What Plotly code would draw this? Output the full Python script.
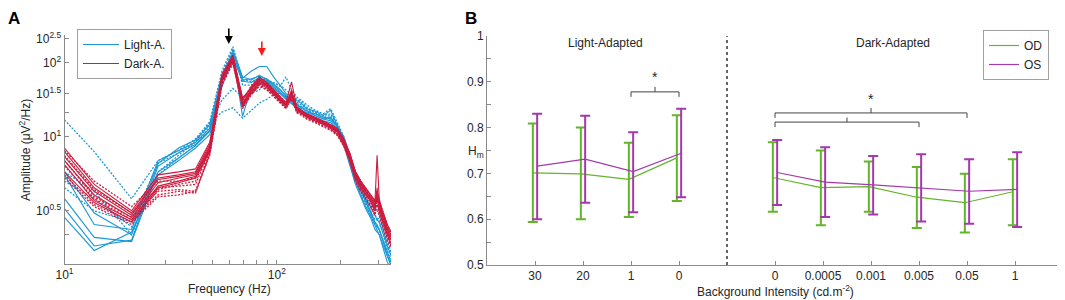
import math
import plotly.graph_objects as go

# ---------------- Panel A data (log10 amplitude exponent per frequency bin) ----------------
freq_hz = [10, 13.8, 20.7, 27.6, 34.5, 41.4, 48.3, 55.2, 62.1, 69.0, 75.9, 82.8, 89.7, 96.6,
           103.5, 110.4, 117.3, 124.2, 131.1, 138.0, 151.8, 165.6, 179.4, 193.2, 207.0, 220.8,
           234.6, 248.4, 262.2, 276.0, 289.8, 296.7, 303.6, 317.4, 331.2, 345.0]

light_solid_1 = [0.72, 0.49, 0.40, 0.78, 0.90, 0.97, 1.12, 1.78, 2.20, 1.73, 1.85, 1.93, 1.93, 1.75, 1.62, 1.50, 1.45, 1.40, 1.36, 1.30, 1.27, 1.22, 1.28, 1.10, 0.96, 0.80, 0.68, 0.62, 0.56, 0.52, 0.48, 0.46, 0.45, 0.40, 0.36, 0.33]
light_solid_2 = [0.70, 0.44, 0.42, 0.80, 0.88, 0.95, 1.08, 1.70, 2.15, 1.21, 1.60, 1.72, 1.68, 1.60, 1.52, 1.44, 1.40, 1.36, 1.30, 1.28, 1.22, 1.18, 1.16, 1.08, 0.94, 0.78, 0.66, 0.58, 0.52, 0.48, 0.44, 0.42, 0.40, 0.36, 0.33, 0.30]
light_solid_3 = [0.56, 0.39, 0.375, 0.72, 0.82, 0.92, 1.05, 1.65, 2.25, 1.75, 1.70, 1.78, 1.70, 1.62, 1.55, 1.48, 1.38, 1.34, 1.32, 1.26, 1.24, 1.20, 1.18, 1.10, 1.00, 0.84, 0.70, 0.62, 0.55, 0.50, 0.45, 0.44, 0.42, 0.38, 0.34, 0.31]
light_solid_4 = [0.47, 0.345, 0.41, 0.70, 0.80, 0.90, 1.02, 1.60, 2.10, 1.68, 1.66, 1.74, 1.66, 1.58, 1.50, 1.42, 1.36, 1.30, 1.26, 1.24, 1.20, 1.16, 1.14, 1.06, 0.92, 0.76, 0.64, 0.57, 0.51, 0.47, 0.42, 0.41, 0.40, 0.35, 0.31, 0.29]
light_solid_5 = [0.51, 0.36, 0.38, 0.76, 0.86, 0.93, 1.06, 1.68, 2.18, 1.70, 1.72, 1.76, 1.72, 1.64, 1.56, 1.46, 1.40, 1.34, 1.28, 1.25, 1.22, 1.18, 1.20, 1.10, 0.98, 0.82, 0.68, 0.60, 0.54, 0.49, 0.45, 0.43, 0.42, 0.37, 0.33, 0.30]

light_dotted_1 = [1.17, 0.87, 0.56, 0.80, 0.88, 0.98, 1.15, 1.85, 2.32, 1.70, 1.68, 1.72, 1.70, 1.66, 1.60, 1.75, 1.55, 1.45, 1.40, 1.35, 1.28, 1.24, 1.30, 1.14, 1.00, 0.82, 0.70, 0.64, 0.58, 0.54, 0.50, 0.50, 0.48, 0.42, 0.38, 0.34]
light_dotted_2 = [0.66, 0.56, 0.43, 0.70, 0.82, 0.92, 1.10, 1.41, 1.57, 1.45, 1.50, 1.55, 1.68, 1.65, 1.62, 1.55, 1.48, 1.42, 1.38, 1.32, 1.26, 1.22, 1.24, 1.12, 0.98, 0.80, 0.66, 0.60, 0.55, 0.50, 0.46, 0.46, 0.45, 0.40, 0.36, 0.32]
light_dotted_3 = [0.72, 0.60, 0.40, 0.72, 0.84, 0.95, 1.14, 1.26, 1.31, 1.19, 1.28, 1.37, 1.42, 1.48, 1.50, 1.46, 1.42, 1.38, 1.34, 1.30, 1.25, 1.20, 1.22, 1.10, 0.96, 0.78, 0.66, 0.58, 0.53, 0.48, 0.44, 0.43, 0.42, 0.38, 0.34, 0.31]
light_dotted_4 = [0.62, 0.50, 0.45, 0.78, 0.86, 0.96, 1.12, 1.80, 2.28, 1.62, 1.62, 1.66, 1.62, 1.56, 1.50, 1.44, 1.40, 1.36, 1.32, 1.28, 1.24, 1.20, 1.18, 1.10, 0.98, 0.82, 0.70, 0.63, 0.57, 0.52, 0.48, 0.47, 0.46, 0.41, 0.37, 0.33]

dark_solid_1 = [0.90, 0.64, 0.50, 0.70, 0.72, 0.74, 0.95, 1.80, 2.15, 1.40, 1.60, 1.75, 1.66, 1.55, 1.45, 1.38, 1.67, 1.32, 1.28, 1.24, 1.20, 1.16, 1.12, 1.08, 0.98, 0.86, 0.72, 0.66, 0.61, 0.58, 0.54, 0.84, 0.56, 0.48, 0.43, 0.40]
dark_solid_2 = [0.87, 0.62, 0.49, 0.68, 0.70, 0.72, 0.93, 1.76, 2.10, 1.36, 1.56, 1.70, 1.62, 1.52, 1.42, 1.35, 1.50, 1.30, 1.26, 1.22, 1.18, 1.14, 1.10, 1.05, 0.95, 0.82, 0.70, 0.64, 0.60, 0.56, 0.52, 0.58, 0.52, 0.46, 0.41, 0.38]
dark_solid_3 = [0.83, 0.60, 0.48, 0.67, 0.69, 0.71, 0.91, 1.72, 2.05, 1.32, 1.52, 1.66, 1.60, 1.50, 1.40, 1.34, 1.55, 1.28, 1.25, 1.20, 1.16, 1.12, 1.08, 1.02, 0.92, 0.80, 0.68, 0.62, 0.58, 0.55, 0.50, 0.62, 0.50, 0.44, 0.40, 0.36]
dark_solid_4 = [0.80, 0.58, 0.47, 0.65, 0.68, 0.70, 0.90, 1.74, 2.12, 1.44, 1.58, 1.72, 1.64, 1.54, 1.44, 1.36, 1.45, 1.31, 1.27, 1.23, 1.19, 1.15, 1.11, 1.06, 0.96, 0.84, 0.71, 0.65, 0.60, 0.57, 0.53, 0.55, 0.54, 0.47, 0.42, 0.39]
dark_solid_5 = [0.77, 0.55, 0.46, 0.63, 0.66, 0.69, 0.88, 1.68, 2.02, 1.38, 1.50, 1.64, 1.58, 1.48, 1.40, 1.32, 1.48, 1.27, 1.24, 1.21, 1.17, 1.13, 1.09, 1.04, 0.94, 0.82, 0.69, 0.63, 0.59, 0.55, 0.51, 0.57, 0.51, 0.45, 0.40, 0.37]
dark_solid_6 = [0.72, 0.54, 0.45, 0.62, 0.65, 0.68, 0.87, 1.70, 2.06, 1.34, 1.54, 1.68, 1.62, 1.51, 1.41, 1.35, 1.52, 1.29, 1.26, 1.22, 1.18, 1.14, 1.10, 1.05, 0.97, 0.85, 0.72, 0.66, 0.62, 0.58, 0.55, 0.60, 0.55, 0.49, 0.44, 0.41]

dark_dotted_1 = [0.88, 0.66, 0.52, 0.66, 0.66, 0.68, 0.90, 1.72, 2.08, 1.40, 1.62, 1.74, 1.66, 1.56, 1.46, 1.38, 1.52, 1.31, 1.27, 1.23, 1.19, 1.15, 1.11, 1.06, 0.96, 0.83, 0.70, 0.64, 0.60, 0.56, 0.52, 0.58, 0.53, 0.47, 0.42, 0.39]
dark_dotted_2 = [0.84, 0.61, 0.49, 0.62, 0.63, 0.64, 0.88, 1.66, 2.00, 1.34, 1.52, 1.65, 1.60, 1.50, 1.40, 1.33, 1.46, 1.28, 1.24, 1.21, 1.17, 1.13, 1.09, 1.04, 0.94, 0.81, 0.69, 0.63, 0.59, 0.55, 0.50, 0.56, 0.51, 0.45, 0.41, 0.38]
dark_dotted_3 = [0.80, 0.57, 0.47, 0.60, 0.61, 0.60, 0.86, 1.64, 2.04, 1.30, 1.48, 1.62, 1.56, 1.47, 1.38, 1.31, 1.44, 1.26, 1.23, 1.19, 1.15, 1.11, 1.07, 1.02, 0.92, 0.80, 0.67, 0.61, 0.57, 0.53, 0.49, 0.54, 0.49, 0.43, 0.39, 0.36]
dark_dotted_4 = [0.76, 0.56, 0.46, 0.58, 0.60, 0.59, 0.85, 1.70, 2.10, 1.36, 1.56, 1.70, 1.62, 1.52, 1.42, 1.35, 1.48, 1.30, 1.26, 1.22, 1.18, 1.14, 1.10, 1.06, 0.96, 0.84, 0.71, 0.65, 0.61, 0.57, 0.53, 0.59, 0.54, 0.48, 0.43, 0.40]
dark_dotted_5 = [0.70, 0.53, 0.45, 0.57, 0.58, 0.60, 0.84, 1.62, 1.98, 1.32, 1.50, 1.60, 1.55, 1.46, 1.37, 1.30, 1.42, 1.25, 1.22, 1.18, 1.14, 1.10, 1.06, 1.01, 0.91, 0.79, 0.66, 0.60, 0.56, 0.52, 0.48, 0.53, 0.48, 0.42, 0.38, 0.35]
dark_dotted_6 = [0.68, 0.52, 0.44, 0.61, 0.64, 0.66, 0.89, 1.74, 2.14, 1.42, 1.58, 1.70, 1.64, 1.53, 1.43, 1.36, 1.50, 1.30, 1.27, 1.23, 1.19, 1.15, 1.11, 1.07, 0.97, 0.85, 0.72, 0.66, 0.62, 0.58, 0.54, 0.60, 0.55, 0.49, 0.44, 0.41]

a_y_tickvals = [0.4, 0.5, 1, 1.25, 1.5, 2, 2.5]
a_y_ticktext = ["", "10<sup>0.5</sup>", "10<sup>1</sup>", "", "10<sup>1.5</sup>", "10<sup>2</sup>", "10<sup>2.5</sup>"]
a_x_tickvals = [10, 20, 30, 40, 50, 60, 70, 80, 90, 100, 200, 300]
a_x_ticktext = ["10<sup>1</sup>", "", "", "", "", "", "", "", "", "10<sup>2</sup>", "", ""]

# ---------------- Panel B data ----------------
light_labels = ["30", "20", "1", "0"]
dark_labels = ["0", "0.0005", "0.001", "0.005", "0.05", "1"]
light_pos = [1, 2, 3, 4]
dark_pos = [6, 7, 8, 9, 10, 11]

od_light_mean = [0.701, 0.699, 0.687, 0.734]
od_light_upper = [0.809, 0.800, 0.767, 0.827]
od_light_lower = [0.594, 0.600, 0.605, 0.640]
os_light_mean = [0.716, 0.731, 0.704, 0.744]
os_light_upper = [0.830, 0.826, 0.790, 0.841]
os_light_lower = [0.600, 0.636, 0.615, 0.648]

od_dark_mean = [0.691, 0.669, 0.671, 0.648, 0.636, 0.660]
od_dark_upper = [0.768, 0.750, 0.726, 0.714, 0.699, 0.731]
od_dark_lower = [0.616, 0.587, 0.616, 0.581, 0.571, 0.587]
os_dark_mean = [0.702, 0.681, 0.675, 0.668, 0.661, 0.665]
os_dark_upper = [0.773, 0.757, 0.738, 0.742, 0.731, 0.746]
os_dark_lower = [0.631, 0.605, 0.610, 0.595, 0.590, 0.583]

b_y_tickvals = [0.5, 0.55, 0.6, 0.65, 0.7, 0.75, 0.8, 0.85, 0.9, 0.95, 1.0]
b_y_ticktext = ["0.5", "", "0.6", "", "0.7", "", "0.8", "", "0.9", "", "1"]

# significance brackets: (start category, end category, line level)
sig_light = (3, 4, 0.878)
sig_dark_outer = (6, 10, 0.832)
sig_dark_inner = (6, 9, 0.812)

# ---------------- styling ----------------
# the page body adds an 8 px margin, so the figure is drawn 8 px in from the top-left
PAGE = 8
FW, FH = 1065 - PAGE, 300 - PAGE
FONT = "Liberation Sans, Arial, Helvetica, sans-serif"
BLUE = "#1b98d5"
RED = "#cc1c3f"
GREEN = "#63b52a"
PURPLE = "#a23aab"
AXC = "#8a8a8a"
TXT = "#262626"
OFFSET = 0.045

def px(sx):
    return (sx - PAGE) / FW

def py(sy):
    return 1 - (sy - PAGE) / FH

fig = go.Figure()

def add_a(vals, color, dash, name, show):
    fig.add_trace(go.Scatter(x=freq_hz, y=vals, mode="lines", name=name, showlegend=show,
                             line=dict(color=color, width=1.1 if dash == "solid" else 1.3,
                                       dash=dash if dash == "solid" else "2px,1.5px"),
                             xaxis="x", yaxis="y", legend="legend"))

add_a(light_solid_1, BLUE, "solid", "Light-A.", True)
for v in [light_solid_2, light_solid_3, light_solid_4, light_solid_5]:
    add_a(v, BLUE, "solid", "Light-A.", False)
for v in [light_dotted_1, light_dotted_2, light_dotted_3, light_dotted_4]:
    add_a(v, BLUE, "dot", "Light-A.", False)
add_a(dark_solid_1, RED, "solid", "Dark-A.", True)
for v in [dark_solid_2, dark_solid_3, dark_solid_4, dark_solid_5, dark_solid_6]:
    add_a(v, RED, "solid", "Dark-A.", False)
for v in [dark_dotted_1, dark_dotted_2, dark_dotted_3, dark_dotted_4, dark_dotted_5, dark_dotted_6]:
    add_a(v, RED, "dot", "Dark-A.", False)

def add_b(pos, mean, upper, lower, color, name, show, off):
    fig.add_trace(go.Scatter(
        x=[p + off for p in pos], y=mean, mode="lines", name=name, showlegend=show,
        line=dict(color=color, width=1.2),
        error_y=dict(type="data", symmetric=False,
                     array=[u - m for u, m in zip(upper, mean)],
                     arrayminus=[m - l for m, l in zip(mean, lower)],
                     color=color, thickness=2, width=5),
        xaxis="x2", yaxis="y2", legend="legend2"))

add_b(light_pos, od_light_mean, od_light_upper, od_light_lower, GREEN, "OD", True, -OFFSET)
add_b(dark_pos, od_dark_mean, od_dark_upper, od_dark_lower, GREEN, "OD", False, -OFFSET)
add_b(light_pos, os_light_mean, os_light_upper, os_light_lower, PURPLE, "OS", True, OFFSET)
add_b(dark_pos, os_dark_mean, os_dark_upper, os_dark_lower, PURPLE, "OS", False, OFFSET)

# domains (screen-pixel based)
ax_a = [px(64.5), px(391)]
ay_a = [py(264), py(35)]
ax_b = [px(487), px(1063)]
ay_b = [py(265), py(36)]

axis_common = dict(showline=True, linecolor=AXC, linewidth=1, ticks="inside", ticklen=4,
                   tickcolor=AXC, showgrid=False, zeroline=False, automargin=False,
                   tickfont=dict(family=FONT, size=12, color=TXT))

fig.update_layout(
    template="none",
    width=FW, height=FH, margin=dict(l=0, r=0, t=0, b=0, pad=0, autoexpand=False),
    paper_bgcolor="white", plot_bgcolor="white",
    font=dict(family=FONT, size=12, color=TXT),
    xaxis=dict(domain=ax_a, type="log", range=[1, math.log10(345)], anchor="y",
               tickvals=a_x_tickvals, ticktext=a_x_ticktext, **axis_common),
    yaxis=dict(domain=ay_a, type="log", range=[math.log10(0.304), math.log10(2.59)], anchor="x",
               tickvals=a_y_tickvals, ticktext=a_y_ticktext, **axis_common),
    xaxis2=dict(domain=ax_b, range=[0, 12], anchor="y2",
                tickvals=light_pos + dark_pos, ticktext=light_labels + dark_labels, **axis_common),
    yaxis2=dict(domain=ay_b, range=[0.5, 1.0], anchor="x2",
                tickvals=b_y_tickvals, ticktext=b_y_ticktext, **axis_common),
    legend=dict(x=px(77), y=py(29), xanchor="left", yanchor="top",
                bordercolor="#a0a0a0", borderwidth=1, bgcolor="white", itemwidth=36,
                font=dict(family=FONT, size=12, color=TXT), tracegroupgap=0),
    legend2=dict(x=px(983), y=py(30), xanchor="left", yanchor="top",
                 bordercolor="#a0a0a0", borderwidth=1, bgcolor="white",
                 font=dict(family=FONT, size=12, color=TXT), tracegroupgap=0),
    showlegend=True,
)

# divider between light- and dark-adapted
fig.add_shape(type="line", xref="x2", yref="y2", x0=5, x1=5, y0=0.5, y1=1.0,
              line=dict(color="black", width=1.2, dash="dot"))

def bracket(spec, drop=0.011, rise=0.011):
    x1, x2, yl = spec
    xc = (x1 + x2) / 2
    path = (f"M {x1},{yl - drop} L {x1},{yl} L {x2},{yl} L {x2},{yl - drop} "
            f"M {xc},{yl} L {xc},{yl + rise}")
    fig.add_shape(type="path", xref="x2", yref="y2", path=path,
                  line=dict(color="#444444", width=1))
    return xc, yl + rise

def label(x, y, text, size=12, color=TXT, xref="paper", yref="paper", angle=0, yanchor="middle"):
    fig.add_annotation(x=x, y=y, xref=xref, yref=yref, text=text, showarrow=False,
                       xanchor="center", yanchor=yanchor, textangle=angle, borderpad=0,
                       font=dict(family=FONT, size=size, color=color))

xc, yt = bracket(sig_light)
label(xc, yt + 0.022, "*", size=14, xref="x2", yref="y2")
xc, yt = bracket(sig_dark_outer)
label(xc, yt + 0.020, "*", size=14, xref="x2", yref="y2")
bracket(sig_dark_inner, rise=0.010)

# group titles
label(2.47, 0.985, "Light-Adapted", xref="x2", yref="y2")
label(8.45, 0.985, "Dark-Adapted", xref="x2", yref="y2")

# arrows in panel A (log axes -> log10 coordinates)
fig.add_annotation(x=math.log10(59.4), y=math.log10(2.38), xref="x", yref="y", ax=0, ay=-17,
                   showarrow=True, arrowhead=2, arrowsize=1, arrowwidth=1.6, arrowcolor="black", text="")
fig.add_annotation(x=math.log10(85.0), y=math.log10(2.13), xref="x", yref="y", ax=0, ay=-16,
                   showarrow=True, arrowhead=2, arrowsize=1, arrowwidth=1.6, arrowcolor="#ff1a1a", text="")

# axis titles and panel letters
label(px(229), py(289), "Frequency (Hz)")
label(px(25), py(150), "Amplitude (μV<sup>2</sup>/Hz)", angle=-90)
label(px(775), py(291), "Background Intensity (cd.m<sup>-2</sup>)")
label(px(476), py(152), "H<sub>m</sub>")
label(px(14), 1.0, "<b>A</b>", size=17, color="black", yanchor="top")
label(px(471), 1.0, "<b>B</b>", size=17, color="black", yanchor="top")

fig.write_html("out.html")
